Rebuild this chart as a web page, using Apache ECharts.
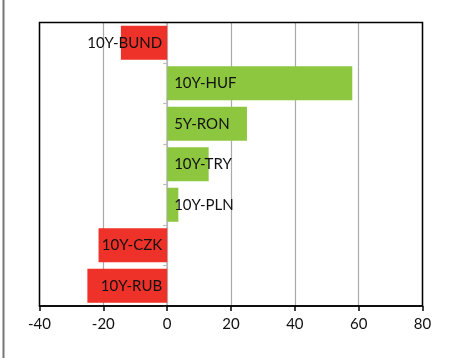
<!DOCTYPE html>
<html>
<head>
<meta charset="utf-8">
<script src="https://cdn.jsdelivr.net/npm/echarts@6/dist/echarts.min.js"></script>
<style>
  html, body { margin: 0; padding: 0; background: #fff; }
  #chart { width: 453px; height: 358px; }
</style>
</head>
<body>
<div id="chart"></div>
<script>
// Instruments, top to bottom, and their changes
const categories = ['10Y-BUND', '10Y-HUF', '5Y-RON', '10Y-TRY', '10Y-PLN', '10Y-CZK', '10Y-RUB'];
const values = [-14.5, 58, 25, 13, 3.5, -21.5, -25];
const xTicks = [-40, -20, 0, 20, 40, 60, 80];

const RED = '#EE3129';
const GREEN = '#8DC63F';

const GRID = { left: 39.5, right: 30.5, top: 22.5, bottom: 52 };
const W = 453, H = 358;

const chart = echarts.init(document.getElementById('chart'), null, { renderer: 'canvas' });

const barData = values.map(v => ({
  value: v,
  itemStyle: { color: v < 0 ? RED : GREEN },
  label: {
    position: v < 0 ? 'insideRight' : 'insideLeft',
    distance: v < 0 ? 5 : 7
  }
}));

chart.setOption({
  animation: false,
  grid: GRID,
  xAxis: {
    type: 'value',
    min: xTicks[0],
    max: xTicks[xTicks.length - 1],
    interval: 20,
    axisLine: { show: true, lineStyle: { color: '#000', width: 1.5 } },
    axisTick: { show: true, length: 5, lineStyle: { color: '#000', width: 1.5 } },
    axisLabel: { color: '#111', fontSize: 15, fontFamily: 'Lato, sans-serif', margin: 11 },
    splitLine: { show: true, lineStyle: { color: '#aaa', width: 1.2 } }
  },
  yAxis: {
    type: 'category',
    data: categories,
    inverse: true,
    axisLine: { show: true, onZero: true, lineStyle: { color: '#bbb', width: 1.5 } },
    axisTick: { show: true, length: 4, lineStyle: { color: '#bbb', width: 1.2 } },
    axisLabel: { show: false }
  },
  series: [{
    type: 'bar',
    data: barData,
    barCategoryGap: '16%',
    label: {
      show: true,
      formatter: p => categories[p.dataIndex],
      color: '#111',
      fontSize: 15,
      fontFamily: 'Lato, sans-serif'
    }
  }],
  graphic: [{
    type: 'rect',
    z: 100,
    shape: {
      x: GRID.left, y: GRID.top,
      width: W - GRID.left - GRID.right,
      height: H - GRID.top - GRID.bottom
    },
    style: { fill: null, stroke: '#000', lineWidth: 1.5 },
    silent: true
  }, {
    type: 'line',
    shape: { x1: 3.5, y1: 0, x2: 3.5, y2: H },
    style: { stroke: '#777', lineWidth: 2 },
    silent: true
  }]
});
</script>
</body>
</html>
